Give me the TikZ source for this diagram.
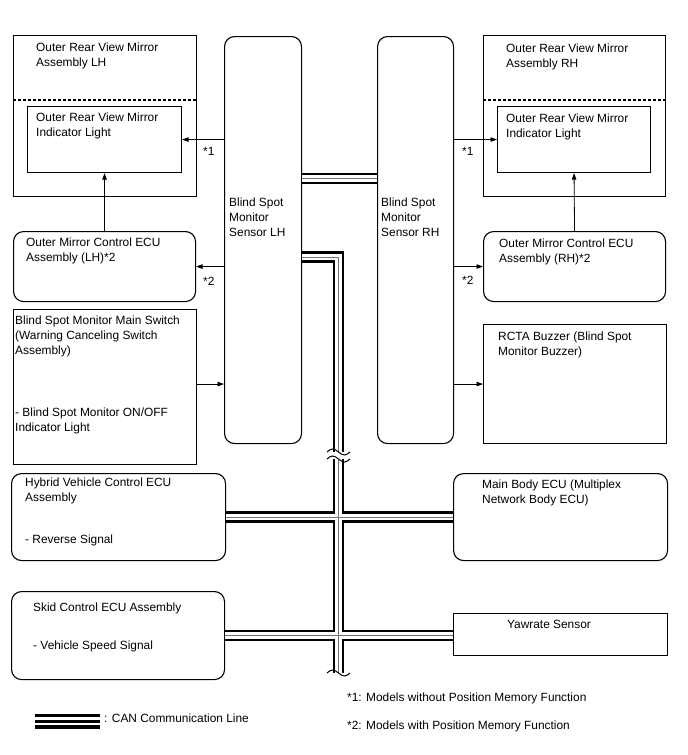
\documentclass[tikz,border=0pt]{standalone}
\usepackage{fontspec}
\setmainfont{Liberation Sans}
\usetikzlibrary{arrows.meta,calc}
\newcommand\canpaths[1]{%
  \draw[#1] (senL.east |- 0,178.5) -- (senR.west |- 0,178.5);
  \draw[#1] (senL.east |- 0,257) -- (338.5,257) -- (338.5,452);
  \draw[#1] (338.5,459) -- (338.5,673);
  \draw[#1] (hyb.east) -- (mbe.west);
  \draw[#1] (skid.east) -- (skid.east -| yaw.west);
}
\begin{document}
\begin{tikzpicture}[x=1pt,y=-1pt,
  box/.style={draw, line width=1.1pt, inner sep=0pt, anchor=north west},
  rbox/.style={box, rounded corners=10pt},
  txt/.style={anchor=north west, inner sep=0pt, align=left, font=\fontsize{11.9}{14.6}\selectfont},
  arr/.style={line width=0.8pt, -{Triangle[length=6.5pt,width=4.5pt]}},
  dashsep/.style={line width=1.1pt, dash pattern=on 3pt off 2pt},
  tildeline/.style={line width=1pt}]
\useasboundingbox[fill=white] (0,0) rectangle (688,755);

% boxes
\node[box, minimum width=183pt, minimum height=161pt] (asmL) at (13,35) {};
\node[box, minimum width=154pt, minimum height=66pt] (indL) at (27,106) {};
\node[rbox, minimum width=77pt, minimum height=407pt] (senL) at (224,36) {};
\node[rbox, minimum width=182pt, minimum height=70pt] (ecuL) at (13,231) {};
\node[box, minimum width=183pt, minimum height=155pt] (swL) at (13,309) {};
\node[box, minimum width=182pt, minimum height=161pt] (asmR) at (483,35) {};
\node[box, minimum width=153pt, minimum height=66pt] (indR) at (497,106) {};
\node[rbox, minimum width=76pt, minimum height=407pt] (senR) at (377,36) {};
\node[rbox, minimum width=182pt, minimum height=70pt] (ecuR) at (483,231) {};
\node[box, minimum width=183pt, minimum height=119pt] (buz) at (483,324) {};
\node[rbox, minimum width=214pt, minimum height=87pt] (hyb) at (11,473) {};
\node[rbox, minimum width=214pt, minimum height=87pt] (mbe) at (453,473) {};
\node[rbox, minimum width=213pt, minimum height=88pt] (skid) at (11,591) {};
\node[box, minimum width=214pt, minimum height=42pt] (yaw) at (453,613) {};

% dashed separators
\draw[dashsep] (asmL.west |- 0,100) -- (asmL.east |- 0,100);
\draw[dashsep] (asmR.west |- 0,100) -- (asmR.east |- 0,100);

% texts
\node[txt] (tasmL) at (36,43) {Outer Rear View Mirror\\Assembly LH};
\node[txt] (tindL) at (36,113) {Outer Rear View Mirror\\Indicator Light};
\node[txt] (tsenL) at (229,198) {Blind Spot\\Monitor\\Sensor LH};
\node[txt] (tecuL) at (26,238) {Outer Mirror Control ECU\\Assembly (LH)*2};
\node[txt] (tswA) at (15,316) {Blind Spot Monitor Main Switch\\(Warning Canceling Switch\\Assembly)};
\node[txt] (tswB) at (15,408) {- Blind Spot Monitor ON/OFF\\Indicator Light};
\node[txt] (tasmR) at (506,44) {Outer Rear View Mirror\\Assembly RH};
\node[txt] (tindR) at (506,114) {Outer Rear View Mirror\\Indicator Light};
\node[txt] (tsenR) at (381,198) {Blind Spot\\Monitor\\Sensor RH};
\node[txt] (tecuR) at (499,239) {Outer Mirror Control ECU\\Assembly (RH)*2};
\node[txt] (tbuz) at (498,332) {RCTA Buzzer (Blind Spot\\Monitor Buzzer)};
\node[txt] (thybA) at (25,478) {Hybrid Vehicle Control ECU\\Assembly};
\node[txt] (thybB) at (25,535) {- Reverse Signal};
\node[txt] (tmbe) at (482,480) {Main Body ECU (Multiplex\\Network Body ECU)};
\node[txt] (tskA) at (33,603) {Skid Control ECU Assembly};
\node[txt] (tskB) at (33,641) {- Vehicle Speed Signal};
\node[txt, anchor=north] (tyaw) at (549,620) {Yawrate Sensor};
\node[txt] (n1L) at (203,147) {*1};
\node[txt] (n2L) at (203,277) {*2};
\node[txt] (n1R) at (462,147) {*1};
\node[txt] (n2R) at (462,276) {*2};
\node[txt] (fn1) at (347,693) {*1: Models without Position Memory Function};
\node[txt] (fn2) at (347,721) {*2: Models with Position Memory Function};
\node[txt] (leg) at (104,714) {: CAN Communication Line};

% arrows
\draw[arr] (senL.west |- indL.east) -- (indL.east);
\draw[arr] (senL.west |- ecuL.east) -- (ecuL.east);
\draw[arr] (ecuL.north) -- (indL.south);
\draw[arr] (swL.east |- buz.west) -- (senL.west |- buz.west);
\draw[arr] (senR.east |- indR.west) -- (indR.west);
\draw[arr] (senR.east |- ecuR.west) -- (ecuR.west);
\draw[arr] (ecuR.north) -- (indR.south);
\draw[arr] (senR.east |- buz.west) -- (buz.west);

% CAN lines
\canpaths{line width=11.5pt, black}
\canpaths{line width=6.5pt, white}
\canpaths{line width=1pt, black!55}

% break marks
\draw[tildeline] (327,452) sin (332.5,449) cos (338.5,452) sin (344.5,455) cos (350,452);
\draw[tildeline] (327,459) sin (332.5,456) cos (338.5,459) sin (344.5,462) cos (350,459);
\draw[tildeline] (327,673) sin (332.5,670) cos (338.5,673) sin (344.5,676) cos (350,673);

% legend
\fill (35,713.5) rectangle (100,717);
\fill (35,720.3) rectangle (100,722.5);
\fill (35,725) rectangle (100,728.5);
\end{tikzpicture}
\end{document}
